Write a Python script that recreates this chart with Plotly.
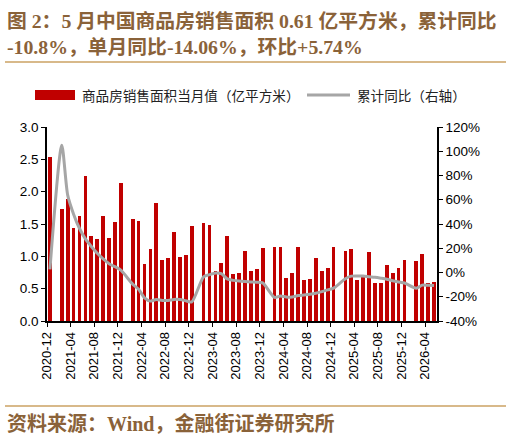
import plotly.graph_objects as go

W, H = 512, 438
L, R, T, B = 47, 437, 127, 321  # plot area in px

months = ["2020-12"] + [f"{y}-{m:02d}" for y in range(2021, 2027) for m in range(1, 13)]
months = months[:66]  # 2020-12 .. 2026-05

sales = [2.54,
         None, 1.73, 1.88, 1.44, 1.62, 2.24, 1.31, 1.27, 1.63, 1.28, 1.53, 2.14,
         None, 1.58, 1.55, 0.88, 1.11, 1.83, 0.94, 0.98, 1.37, 0.99, 1.02, 1.47,
         None, 1.52, 1.49, 0.78, 0.89, 1.31, 0.72, 0.75, 1.09, 0.78, 0.80, 1.13,
         None, 1.14, 1.14, 0.67, 0.75, 1.14, 0.63, 0.65, 0.98, 0.77, 0.82, 1.14,
         None, 1.09, 1.12, 0.64, 0.68, 1.06, 0.58, 0.58, 0.86, 0.75, 0.82, 0.95,
         None, 0.93, 1.03, 0.58, 0.61]

cum_yoy = [2.6,
           None, 104.9, 63.8, 48.1, 36.3, 27.7, 21.5, 15.9, 11.3, 7.2, 4.8, 1.9,
           None, -9.6, -13.8, -20.9, -23.6, -22.2, -23.1, -23.0, -22.2, -22.3, -23.3, -24.3,
           None, -3.6, -1.8, -0.4, -0.9, -5.3, -6.5, -7.1, -7.5, -7.8, -8.0, -8.5,
           None, -20.5, -19.4, -20.2, -20.3, -19.0, -18.6, -18.0, -17.1, -15.8, -14.3, -12.9,
           None, -5.1, -3.0, -2.8, -2.9, -3.5, -4.0, -4.7, -5.5, -6.8, -7.8, -8.7,
           None, -13.0, -10.4, -10.6, -10.8]

x_tick_labels = ["2020-12", "2021-04", "2021-08", "2021-12", "2022-04", "2022-08",
                 "2022-12", "2023-04", "2023-08", "2023-12", "2024-04", "2024-08",
                 "2024-12", "2025-04", "2025-08", "2025-12", "2026-04"]
left_ticks = [0.0, 0.5, 1.0, 1.5, 2.0, 2.5, 3.0]
left_tick_text = ["0.0", "0.5", "1.0", "1.5", "2.0", "2.5", "3.0"]
right_ticks = [-40, -20, 0, 20, 40, 60, 80, 100, 120]
right_tick_text = ["-40%", "-20%", "0%", "20%", "40%", "60%", "80%", "100%", "120%"]

title_l1 = "图 2：5 月中国商品房销售面积 0.61 亿平方米，累计同比"
title_l2 = "-10.8%，单月同比-14.06%，环比+5.74%"
source = "资料来源：Wind，金融街证券研究所"
bar_name = "商品房销售面积当月值（亿平方米）"
line_name = "累计同比（右轴）"

BAR_COLOR = "#C00000"
LINE_COLOR = "#A6A6A6"

idx = list(range(len(months)))
pos = {m: i for i, m in enumerate(months)}
tickvals = [pos[t] - 0.5 for t in x_tick_labels]

BROWN = "#8A6239"
RULE = "#D8B98A"
AXFONT = "Liberation Sans, Arial, sans-serif"
CJK = "Noto Sans CJK SC"
SERIF = "Liberation Serif, Noto Sans CJK SC, serif"

pw, ph = R - L, B - T
def px(x):
    return (x - L) / pw
def py(y):
    return (B - y) / ph

fig = go.Figure()
fig.add_trace(go.Bar(x=idx, y=sales, name=bar_name, marker_color=BAR_COLOR,
                     marker_line_width=0, width=0.62, yaxis="y", showlegend=False))
fig.add_trace(go.Scatter(x=idx, y=cum_yoy, name=line_name, mode="lines",
                         line=dict(color=LINE_COLOR, width=3, shape="spline", smoothing=0.7),
                         connectgaps=True, yaxis="y2", showlegend=False))

fig.update_layout(
    width=W, height=H,
    margin=dict(l=L, r=W - R, t=T, b=H - B),
    paper_bgcolor="white", plot_bgcolor="white",
    showlegend=False,
    bargap=0,
    xaxis=dict(range=[-0.5, len(months) - 0.5], tickmode="array", tickvals=tickvals,
               ticktext=x_tick_labels, tickangle=-90, ticks="outside", ticklen=4,
               tickcolor="black", showline=True, linecolor="black", linewidth=1.5,
               showgrid=False, zeroline=False,
               tickfont=dict(family=AXFONT, size=13, color="black")),
    yaxis=dict(range=[0, 3.0], tickmode="array", tickvals=left_ticks, ticktext=left_tick_text,
               ticks="outside", ticklen=4, tickcolor="black", showline=True,
               linecolor="black", linewidth=1.5, showgrid=False, zeroline=False,
               tickfont=dict(family=AXFONT, size=13.5, color="black")),
    yaxis2=dict(range=[-40, 120], overlaying="y", side="right", tickmode="array",
                tickvals=right_ticks, ticktext=right_tick_text, ticks="outside", ticklen=4,
                tickcolor="black", showline=True, linecolor="black", linewidth=1.5,
                showgrid=False, zeroline=False,
                tickfont=dict(family=AXFONT, size=13.5, color="black")),
)

# legend (drawn by hand to mimic the wide swatches of the original)
fig.add_shape(type="rect", xref="paper", yref="paper", x0=px(35), x1=px(75),
              y0=py(100), y1=py(90), fillcolor=BAR_COLOR, line_width=0)
fig.add_annotation(x=px(80), y=py(95), xref="paper", yref="paper", xanchor="left",
                   yanchor="middle", showarrow=False, text=bar_name,
                   font=dict(family=CJK, size=13.6, color="#222"))
fig.add_shape(type="line", xref="paper", yref="paper", x0=px(307), x1=px(350),
              y0=py(95), y1=py(95), line=dict(color=LINE_COLOR, width=3))
fig.add_annotation(x=px(355), y=py(95), xref="paper", yref="paper", xanchor="left",
                   yanchor="middle", showarrow=False, text=line_name,
                   font=dict(family=CJK, size=13.6, color="#222"))

fig.add_annotation(x=px(5), y=py(21), xref="paper", yref="paper", xanchor="left",
                   yanchor="middle", showarrow=False, text="<b>" + title_l1 + "</b>",
                   font=dict(family=SERIF, size=19.8, color=BROWN))
fig.add_annotation(x=px(5), y=py(47), xref="paper", yref="paper", xanchor="left",
                   yanchor="middle", showarrow=False, text="<b>" + title_l2 + "</b>",
                   font=dict(family=SERIF, size=19.8, color=BROWN))
fig.add_annotation(x=px(5), y=py(423), xref="paper", yref="paper", xanchor="left",
                   yanchor="middle", showarrow=False, text="<b>" + source + "</b>",
                   font=dict(family=SERIF, size=20, color=BROWN))

for yy in (62, 406):
    fig.add_shape(type="line", xref="paper", yref="paper", x0=px(5), x1=px(506),
                  y0=py(yy), y1=py(yy), line=dict(color=RULE, width=1.8))

fig.write_html("out.html")
